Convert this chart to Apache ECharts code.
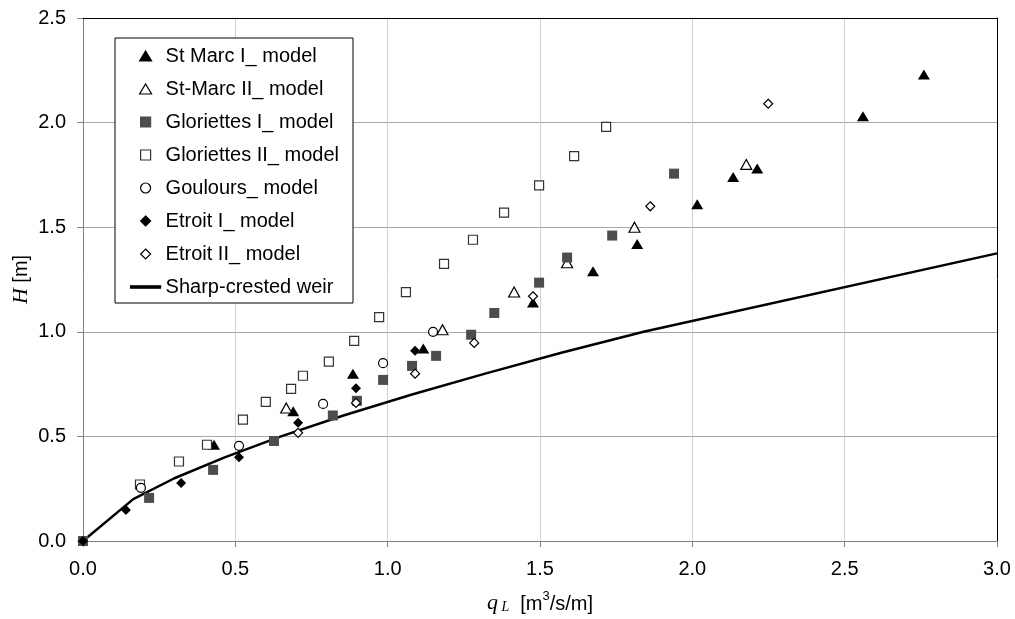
<!DOCTYPE html>
<html>
<head>
<meta charset="utf-8">
<script src="https://cdn.jsdelivr.net/npm/echarts@6/dist/echarts.min.js"></script>
<style>
html,body{margin:0;padding:0;background:#fff;}
#chart{width:1015px;height:619px;}
</style>
</head>
<body>
<div id="chart"></div>
<script>
// ---- data (q_L [m3/s/m], H [m]) ----
var stMarcI = [[0.43,0.46],[0.69,0.62],[0.886,0.80],[1.117,0.92],[1.477,1.14],[1.674,1.29],[1.819,1.42],[2.016,1.61],[2.134,1.74],[2.213,1.78],[2.56,2.03],[2.76,2.23]];
var stMarcII = [[0.667,0.636],[1.18,1.01],[1.415,1.19],[1.589,1.33],[1.81,1.50],[2.177,1.80]];
var glorI = [[0,0],[0.217,0.206],[0.427,0.34],[0.627,0.478],[0.82,0.60],[0.899,0.67],[0.985,0.77],[1.08,0.837],[1.159,0.885],[1.274,0.986],[1.35,1.09],[1.497,1.235],[1.589,1.355],[1.737,1.46],[1.94,1.756]];
var glorII = [[0.187,0.27],[0.315,0.38],[0.407,0.46],[0.525,0.58],[0.60,0.665],[0.683,0.727],[0.722,0.79],[0.807,0.857],[0.89,0.957],[0.972,1.07],[1.06,1.19],[1.185,1.325],[1.28,1.44],[1.382,1.57],[1.497,1.70],[1.612,1.84],[1.717,1.98]];
var goulours = [[0.19,0.254],[0.512,0.455],[0.788,0.655],[0.985,0.85],[1.149,1.00]];
var etroitI = [[0,0],[0.141,0.148],[0.322,0.277],[0.512,0.40],[0.706,0.565],[0.896,0.73],[1.09,0.91]];
var etroitII = [[0.706,0.517],[0.896,0.66],[1.09,0.80],[1.284,0.947],[1.477,1.17],[1.862,1.60],[2.249,2.09]];
var weir = [[0,0],[0.165,0.2],[0.30,0.3],[0.465,0.4],[0.65,0.5],[0.855,0.6],[1.08,0.7],[1.32,0.8],[1.57,0.9],[1.84,1.0],[3.0,1.375]];
var seriesNames = ['St Marc I_ model','St-Marc II_ model','Gloriettes I_ model','Gloriettes II_ model','Goulours_ model','Etroit I_ model','Etroit II_ model','Sharp-crested weir'];
var xTicks = {min:0, max:3, interval:0.5};
var yTicks = {min:0, max:2.5, interval:0.5};

var SANS = '"Liberation Sans", Arial, sans-serif';
var SERIF = '"Liberation Serif", "Times New Roman", serif';

// legend icon shapes (aspect kept by the legend)
var ICON_TRI = 'path://M6,0L12,10L0,10Z';
var ICON_RECT = 'path://M0,0H10V10H0Z';
var ICON_DIA = 'path://M5,0L10,5L5,10L0,5Z';
var ICON_LINE = 'path://M0,0H30V2.5H0Z';
var legendIcons = [ICON_TRI, ICON_TRI, ICON_RECT, ICON_RECT, 'circle', ICON_DIA, ICON_DIA, ICON_LINE];

function sc(name, data, symbol, size, fill, stroke, bw) {
  return {
    name: name, type: 'scatter', data: data, symbol: symbol, symbolSize: size,
    z: 3,
    itemStyle: {color: fill, borderColor: stroke, borderWidth: bw, opacity: 1}
  };
}

var chart = echarts.init(document.getElementById('chart'), null, {renderer:'canvas'});
var option = {
  animation: false,
  backgroundColor: '#fff',
  grid: {left: 83, right: 18, top: 18, bottom: 78, containLabel: false, outerBoundsMode: 'none'},
  xAxis: [{
    type: 'value', min: xTicks.min, max: xTicks.max, interval: xTicks.interval,
    axisLine: {show: true, onZero: false, lineStyle: {color: '#808080', width: 1}},
    axisTick: {show: true, length: 6, lineStyle: {color: '#808080'}},
    axisLabel: {margin: 18, color: '#000', fontFamily: SANS, fontSize: 20,
      formatter: function(v){return v.toFixed(1);}},
    splitLine: {show: true, lineStyle: {color: '#d0d0d0', width: 1}},
    name: '{q|q}{L| L}{u|  [m}{s|3}{u|/s/m]}',
    nameLocation: 'middle', nameGap: 49,
    nameTextStyle: {
      rich: {
        q: {fontFamily: SERIF, fontStyle: 'italic', fontSize: 22, color: '#000', lineHeight: 24, verticalAlign: 'bottom'},
        L: {fontFamily: SERIF, fontStyle: 'italic', fontSize: 14, color: '#000', lineHeight: 13, verticalAlign: 'bottom'},
        u: {fontFamily: SANS, fontSize: 20, color: '#000', lineHeight: 24, verticalAlign: 'bottom'},
        s: {fontFamily: SANS, fontSize: 13, color: '#000', lineHeight: 13, verticalAlign: 'top'}
      }
    }
  },{
    type: 'value', position: 'top', min: xTicks.min, max: xTicks.max, interval: xTicks.interval,
    axisLine: {show: true, onZero: false, lineStyle: {color: '#000', width: 1}},
    axisTick: {show: false}, axisLabel: {show: false}, splitLine: {show: false}
  }],
  yAxis: [{
    type: 'value', min: yTicks.min, max: yTicks.max, interval: yTicks.interval,
    axisLine: {show: true, onZero: false, lineStyle: {color: '#808080', width: 1}},
    axisTick: {show: true, length: 6, lineStyle: {color: '#808080'}},
    axisLabel: {margin: 17, color: '#000', fontFamily: SANS, fontSize: 20,
      formatter: function(v){return v.toFixed(1);}},
    splitLine: {show: true, lineStyle: {color: '#a8a8a8', width: 1}},
    name: '{h|H}{u| [m]}',
    nameLocation: 'middle', nameGap: 50, nameRotate: 90, nameMoveOverlap: false,
    nameTextStyle: {
      rich: {
        h: {fontFamily: SERIF, fontStyle: 'italic', fontSize: 22, color: '#000', lineHeight: 24},
        u: {fontFamily: SANS, fontSize: 20, color: '#000', lineHeight: 24}
      }
    }
  },{
    type: 'value', position: 'right', min: yTicks.min, max: yTicks.max, interval: yTicks.interval,
    axisLine: {show: true, onZero: false, lineStyle: {color: '#000', width: 1}},
    axisTick: {show: false}, axisLabel: {show: false}, splitLine: {show: false}
  }],
  legend: {
    orient: 'vertical', left: 115, top: 38,
    data: seriesNames.map(function(n, i){ return {name: n, icon: legendIcons[i]}; }),
    backgroundColor: '#fff', borderColor: '#000', borderWidth: 1, borderRadius: 0,
    padding: [8, 14, 6, 15],
    itemWidth: 30, itemHeight: 10, itemGap: 13,
    symbolKeepAspect: true,
    itemStyle: {borderWidth: 1.2},
    lineStyle: {width: 2.5},
    textStyle: {fontFamily: SANS, fontSize: 20, color: '#000'},
    selectedMode: false
  },
  series: [
    {name: seriesNames[7], type: 'line', data: weir, symbol: 'none', showSymbol: false, z: 2,
     lineStyle: {color: '#000', width: 2.5}, itemStyle: {color: '#000', borderColor: '#000', borderWidth: 0}, clip: true},
    sc(seriesNames[0], stMarcI, 'triangle', [12,10], '#000', '#000', 0),
    sc(seriesNames[1], stMarcII, 'triangle', [11,10], '#fff', '#000', 1.2),
    sc(seriesNames[2], glorI, 'rect', 10, '#4d4d4d', '#4d4d4d', 0),
    sc(seriesNames[3], glorII, 'rect', 9, '#fff', '#333', 1.2),
    sc(seriesNames[4], goulours, 'circle', 9, '#fff', '#000', 1.2),
    sc(seriesNames[5], etroitI, 'diamond', 10, '#000', '#000', 0),
    sc(seriesNames[6], etroitII, 'diamond', 9, '#fff', '#000', 1.2)
  ]
};
chart.setOption(option);
</script>
</body>
</html>
